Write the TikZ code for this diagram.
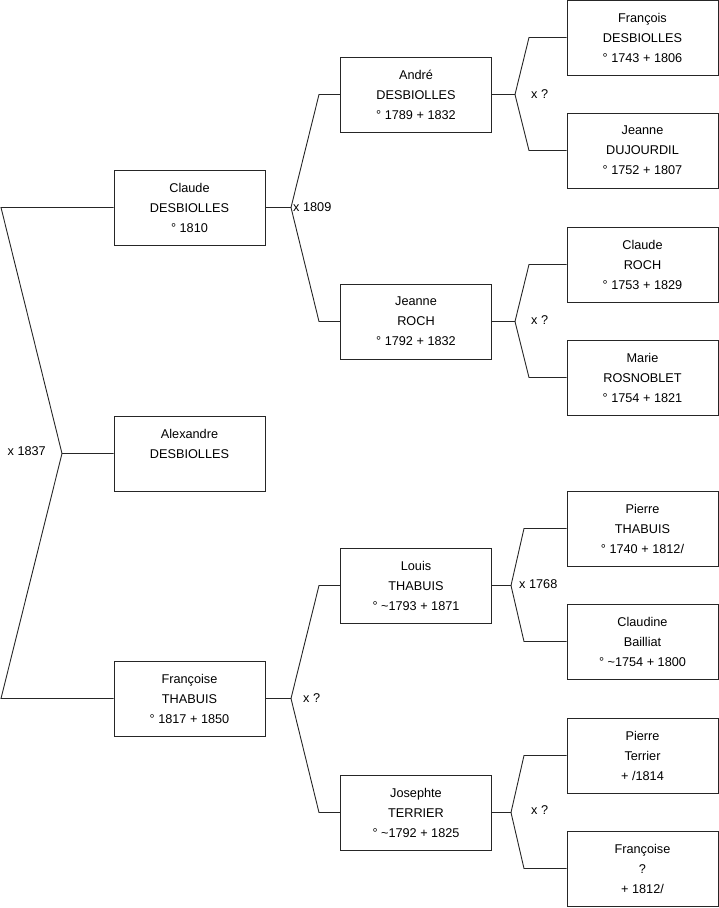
\documentclass[tikz,border=0pt]{standalone}
\usepackage{fontspec}
\setmainfont{Liberation Sans}
\begin{document}
\begin{tikzpicture}[x=1pt,y=-1pt,
  person/.style={draw=black!85,line width=0.9pt,minimum width=151pt,minimum height=75pt,inner sep=0pt,align=center,font=\fontsize{12.7}{20}\selectfont},
  link/.style={draw=black!85,line width=0.9pt},
  lbl/.style={font=\fontsize{12.7}{14}\selectfont,inner sep=0pt}]
\useasboundingbox (0,0) rectangle (719,908);
% level 0/1
\node[person] (claude) at (189.5,207.5) {Claude\\DESBIOLLES\\° 1810};
\node[person] (alex) at (189.5,453.5) {Alexandre\\DESBIOLLES\\~};
\node[person] (francoise) at (189.5,698.5) {Françoise\\THABUIS\\° 1817 + 1850};
% level 2
\node[person] (andre) at (416,94.5) {André\\DESBIOLLES\\° 1789 + 1832};
\node[person] (jeanne) at (416,321.5) {Jeanne\\ROCH\\° 1792 + 1832};
\node[person] (louis) at (416,585.5) {Louis\\THABUIS\\° \textasciitilde1793 + 1871};
\node[person] (josephte) at (416,812.5) {Josephte\\TERRIER\\° \textasciitilde1792 + 1825};
% level 3
\node[person] (fr1) at (642.5,37.5) {François\\DESBIOLLES\\° 1743 + 1806};
\node[person] (jd) at (642.5,150.5) {Jeanne\\DUJOURDIL\\° 1752 + 1807};
\node[person] (cr) at (642.5,264.5) {Claude\\ROCH\\° 1753 + 1829};
\node[person] (mr) at (642.5,377.5) {Marie\\ROSNOBLET\\° 1754 + 1821};
\node[person] (pt) at (642.5,528.5) {Pierre\\THABUIS\\° 1740 + 1812/};
\node[person] (cb) at (642.5,641.5) {Claudine\\Bailliat\\° \textasciitilde1754 + 1800};
\node[person] (ptr) at (642.5,755.5) {Pierre\\Terrier\\+ /1814};
\node[person] (fq) at (642.5,868.5) {Françoise\\?\\+ 1812/};
% junctions and bends
\coordinate (j0) at (62,453.5);
\coordinate (b0a) at (1,207.5);
\coordinate (b0b) at (1,698.5);
\coordinate (j1) at (291,207.5);
\coordinate (b1a) at (319,94.5);
\coordinate (b1b) at (319,321.5);
\coordinate (j2) at (291,698.5);
\coordinate (b2a) at (319,585.5);
\coordinate (b2b) at (319,812.5);
\coordinate (j3) at (515,94.5);
\coordinate (b3a) at (529,37.5);
\coordinate (b3b) at (529,150.5);
\coordinate (j4) at (515,321.5);
\coordinate (b4a) at (529,264.5);
\coordinate (b4b) at (529,377.5);
\coordinate (j5) at (511,585.5);
\coordinate (b5a) at (524,528.5);
\coordinate (b5b) at (524,641.5);
\coordinate (j6) at (511,812.5);
\coordinate (b6a) at (524,755.5);
\coordinate (b6b) at (524,868.5);
% connectors
\draw[link] (alex.west) -- (j0) -- (b0a) -- (claude.west);
\draw[link] (j0) -- (b0b) -- (francoise.west);
\draw[link] (claude.east) -- (j1) -- (b1a) -- (andre.west);
\draw[link] (j1) -- (b1b) -- (jeanne.west);
\draw[link] (francoise.east) -- (j2) -- (b2a) -- (louis.west);
\draw[link] (j2) -- (b2b) -- (josephte.west);
\draw[link] (andre.east) -- (j3) -- (b3a) -- (fr1.west);
\draw[link] (j3) -- (b3b) -- (jd.west);
\draw[link] (jeanne.east) -- (j4) -- (b4a) -- (cr.west);
\draw[link] (j4) -- (b4b) -- (mr.west);
\draw[link] (louis.east) -- (j5) -- (b5a) -- (pt.west);
\draw[link] (j5) -- (b5b) -- (cb.west);
\draw[link] (josephte.east) -- (j6) -- (b6a) -- (ptr.west);
\draw[link] (j6) -- (b6b) -- (fq.west);
% marriage labels
\node[lbl,anchor=east] (m0) at (46,451) {x 1837};
\node[lbl,anchor=west] (m1) at (293,207.5) {x 1809};
\node[lbl,anchor=west] (m2) at (303,698) {x ?};
\node[lbl,anchor=west] (m3) at (531,94) {x ?};
\node[lbl,anchor=west] (m4) at (531,320) {x ?};
\node[lbl,anchor=west] (m5) at (519,584) {x 1768};
\node[lbl,anchor=west] (m6) at (531,810) {x ?};
\end{tikzpicture}
\end{document}
